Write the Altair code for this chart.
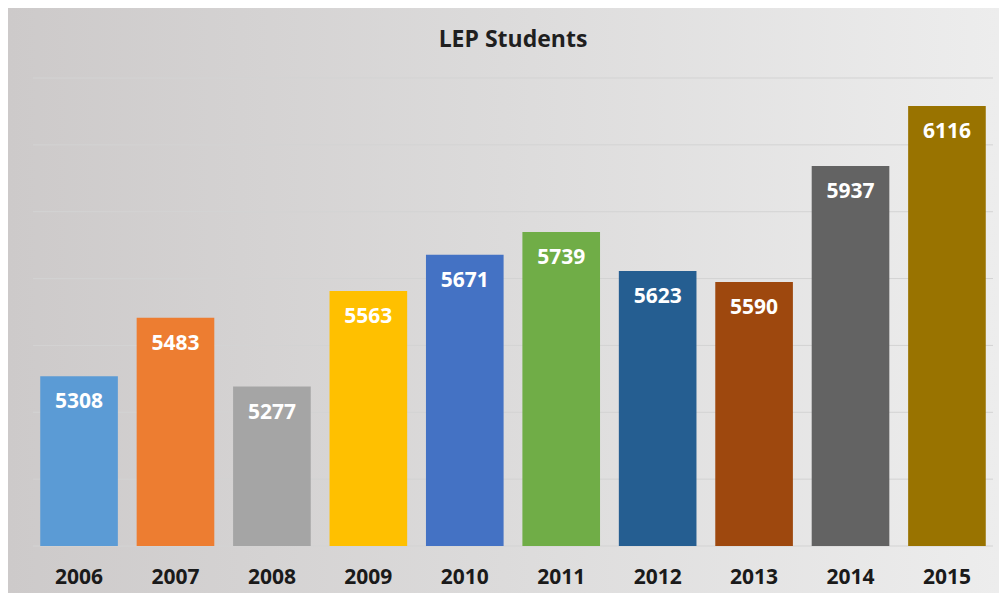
import altair as alt
import pandas as pd

years = ["2006", "2007", "2008", "2009", "2010", "2011", "2012", "2013", "2014", "2015"]
students = [5308, 5483, 5277, 5563, 5671, 5739, 5623, 5590, 5937, 6116]
bar_colors = ["#5B9BD5", "#ED7D31", "#A5A5A5", "#FFC000", "#4472C4",
              "#70AD47", "#255E91", "#9E480E", "#636363", "#997300"]
grid_values = [4800, 5000, 5200, 5400, 5600, 5800, 6000, 6200]
y_min, y_max = 4800, 6200
title_text = "LEP Students"

df = pd.DataFrame({"year": years, "students": students, "color": bar_colors})
grid_df = pd.DataFrame({"g": grid_values})

W, H = 960, 468
PL, PT, PR, PB = 25, 70, 6, 47

y_scale = alt.Scale(domain=[y_min, y_max], zero=False, nice=False)
x_enc = alt.X(
    "year:N", sort=years,
    scale=alt.Scale(paddingInner=0.195, paddingOuter=0.075),
    axis=alt.Axis(title=None, labelAngle=0, labelFont="Open Sans", labelFontWeight="bold",
                  labelFontSize=21, labelColor="#1a1a1a", ticks=False, tickSize=0,
                  domain=False, labelPadding=37, labelBaseline="alphabetic", zindex=1),
)

bg = alt.Chart(pd.DataFrame({"a": [0]})).mark_rect(
    fill=alt.Gradient(
        gradient="linear",
        stops=[alt.GradientStop(color="#cdcaca", offset=0),
               alt.GradientStop(color="#dcdbdb", offset=0.5),
               alt.GradientStop(color="#ededed", offset=1)],
        x1=0, x2=1, y1=0, y2=0,
    )
).encode(x=alt.value(-PL), x2=alt.value(W + PR), y=alt.value(-PT), y2=alt.value(H + PB))

grid = alt.Chart(grid_df).mark_rule(color="#d3d3d3", strokeWidth=1).encode(
    y=alt.Y("g:Q", scale=y_scale, axis=None)
)

base = alt.Chart(df)
bars = base.mark_bar().encode(
    x=x_enc,
    y=alt.Y("students:Q", scale=y_scale, axis=None),
    y2=alt.datum(y_min),
    color=alt.Color("color:N", scale=None),
)
labels = base.mark_text(
    color="white", font="Open Sans", fontWeight="bold", fontSize=21,
    baseline="alphabetic", dy=32,
).encode(
    x=alt.X("year:N", sort=years),
    y=alt.Y("students:Q", scale=y_scale, axis=None),
    text=alt.Text("students:Q", format="d"),
)

title = alt.Chart(pd.DataFrame({"t": [title_text]})).mark_text(
    font="Open Sans", fontSize=23, fontWeight="bold", color="#1f1f1f",
    baseline="alphabetic", align="center",
).encode(text="t:N", x=alt.value(W / 2), y=alt.value(-31))

chart = alt.layer(bg, grid, bars, labels, title).properties(
    width=W, height=H,
    autosize=alt.AutoSizeParams(type="none"),
    padding={"left": PL, "top": PT, "right": PR, "bottom": PB},
).configure_view(stroke=None, fill=None)

chart.save("out.html", embed_options={"renderer": "svg", "actions": False})
